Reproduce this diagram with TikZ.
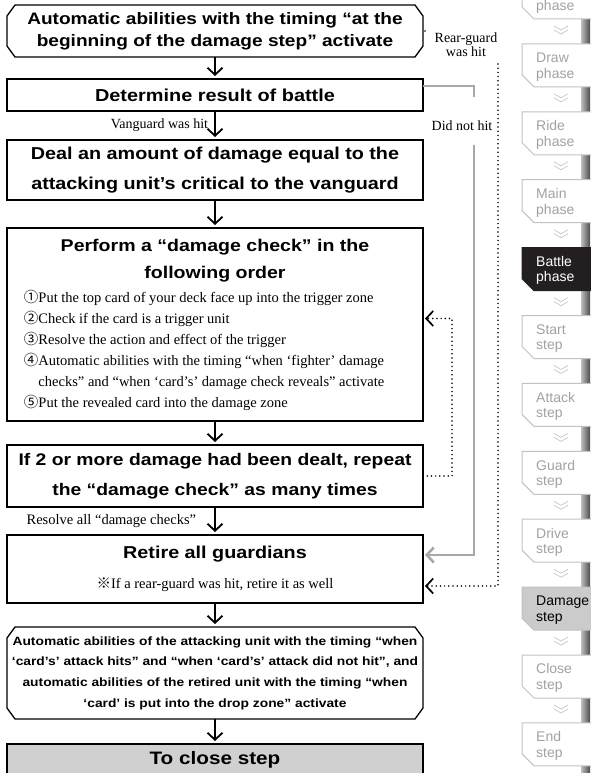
\documentclass[tikz,border=0pt]{standalone}
\usepackage{fontspec}
\setmainfont{Liberation Serif}
\setsansfont{Liberation Sans}
\newfontfamily\headfont[FakeStretch=1.15]{Liberation Sans}
\newfontfamily\markfont{Noto Sans CJK JP}
\usetikzlibrary{arrows.meta, positioning}
\definecolor{missgray}{HTML}{A8A8A8}
\definecolor{sidegray}{HTML}{A2A2A2}
\definecolor{sideline}{HTML}{C2C2C2}
\definecolor{nowgray}{HTML}{CBCBCB}
\definecolor{closegray}{HTML}{D0D0D0}
\definecolor{battleblack}{HTML}{231F20}

\newcommand\cutframe[1]{%
  \draw[line width=1.3pt] ([xshift=8pt]#1.north west) -- ([xshift=-8pt]#1.north east)
     -- ([yshift=-11pt]#1.north east) -- ([yshift=11pt]#1.south east)
     -- ([xshift=-8pt]#1.south east) -- ([xshift=8pt]#1.south west)
     -- ([yshift=11pt]#1.south west) -- ([yshift=-11pt]#1.north west) -- cycle;}

\begin{document}
\begin{tikzpicture}[x=1pt, y=-1pt,
          > = {Straight Barb[length=7pt,width=15pt]},
    box/.style = {draw, line width=1.3pt, minimum width=416pt, inner sep=0pt,
                  outer sep=0pt, align=center,
                  font=\headfont\bfseries\fontsize{17.2}{30}\selectfont},
   flow/.style = {->, line width=1.8pt, shorten >=3pt},
   miss/.style = {draw=missgray, line width=2.6pt},
    hit/.style = {line width=1.7pt, dash pattern=on 0pt off 4.2pt, line cap=round},
   note/.style = {font=\fontsize{14}{14}\selectfont, inner sep=1pt, align=center},
sideoff/.style = {fill=white, draw=sideline, text=sidegray},
 sideon/.style = {fill=battleblack, draw=battleblack, text=white},
sidenow/.style = {fill=nowgray, draw=sideline, text=black},
sidetxt/.style = {draw=none, fill=none, inner sep=0pt, align=left,
                  font=\sffamily\fontsize{14}{15.5}\selectfont},
   chev/.style = {draw=gray!45, line width=0.7pt}
                    ]
\useasboundingbox (0,0) rectangle (590,773);
% side bar
\shade[left color=gray!50, right color=black!70] (581,-30) rectangle (590,780);
\foreach \one/\two/\look [count=\i from 0] in {/phase/sideoff, Draw/phase/sideoff,
    Ride/phase/sideoff, Main/phase/sideoff, Battle/phase/sideon,
    Start/step/sideoff, Attack/step/sideoff, Guard/step/sideoff,
    Drive/step/sideoff, Damage/step/sidenow, Close/step/sideoff, End/step/sideoff}{
  \pgfmathsetmacro\ty{67.9*\i-24}
  \filldraw[\look, line width=1pt] (522,\ty) -- (596,\ty) -- (596,\ty+43)
     -- (534,\ty+43) -- (522,\ty+31) -- cycle;
  \node[\look, sidetxt, anchor=west] (side\i) at (536,\ty+23.5) {\strut\one\\\strut\two};
  \draw[chev] (554,\ty+50) -- (561,\ty+54) -- (568,\ty+50)
              (554,\ty+54) -- (561,\ty+58) -- (568,\ty+54);
}
% main flow
\node[box, draw=none, minimum height=52pt, font=\headfont\bfseries\fontsize{16.6}{22}\selectfont]
    (top1) at (215,31) {Automatic abilities with the timing “at the\\beginning of the damage step” activate};
\cutframe{top1}
\node[box, below=22pt of top1, minimum height=32pt, font=\headfont\bfseries\fontsize{17.3}{22}\selectfont]
    (result) {Determine result of battle};
\node[box, below=29pt of result, minimum height=60pt]
    (deal) {Deal an amount of damage equal to the\\attacking unit’s critical to the vanguard};
\node[box, below=28pt of deal, minimum height=193pt] (check) {\begin{minipage}{400pt}
  \centering\fontsize{17}{27}\selectfont Perform a “damage check” in the\\following order\par
  \vspace{3pt}
  \raggedright\leftskip=9pt\rmfamily\mdseries\fontsize{14.5}{21}\selectfont
  {\markfont ①}Put the top card of your deck face up into the trigger zone\\
  {\markfont ②}Check if the card is a trigger unit\\
  {\markfont ③}Resolve the action and effect of the trigger\\
  {\markfont ④}Automatic abilities with the timing “when ‘fighter’ damage\\
  \phantom{\markfont ④}checks” and “when ‘card’s’ damage check reveals” activate\\
  {\markfont ⑤}Put the revealed card into the damage zone
  \end{minipage}};
\node[box, below=24pt of check, minimum height=62pt, font=\headfont\bfseries\fontsize{16.8}{30}\selectfont]
    (repeat) {If 2 or more damage had been dealt, repeat\\the “damage check” as many times};
\node[box, below=28pt of repeat, minimum height=68pt]
    (retire) {Retire all guardians\\{\rmfamily\mdseries\fontsize{14.5}{14}\selectfont{\markfont ※}If a rear-guard was hit, retire it as well}};
\node[box, draw=none, below=24pt of retire, minimum height=92pt,
      font=\headfont\bfseries\fontsize{12}{20.7}\selectfont]
    (autoend) {Automatic abilities of the attacking unit with the timing “when\\
               ‘card’s’ attack hits” and “when ‘card’s’ attack did not hit”, and\\
               automatic abilities of the retired unit with the timing “when\\
               ‘card’ is put into the drop zone” activate};
\cutframe{autoend}
\node[box, below=25pt of autoend, minimum height=32pt, fill=closegray,
      font=\headfont\bfseries\fontsize{18}{30}\selectfont] (close) {To close step};
% links
\draw[flow] (top1.south) -- (result.north);
\draw[flow] (result.south) -- node[note, left=5pt] (vhit) {Vanguard was hit} (deal.north);
\draw[flow] (deal.south) -- (check.north);
\draw[flow] (check.south) -- (repeat.north);
\draw[flow] (repeat.south) -- node[note, left=17pt, font=\fontsize{14.5}{14}\selectfont] (allres) {Resolve all “damage checks”} (retire.north);
\draw[flow] (retire.south) -- (autoend.north);
\draw[flow] (autoend.south) -- (close.north);
% did not hit
\coordinate (misstop) at (474,97);
\coordinate (missbot) at (474,145);
\draw[miss] ([yshift=9pt]result.east) -| (misstop);
\node[note] (missnote) at (462,126) {Did not hit};
\draw[miss, ->, shorten >=2pt] (missbot) |- ([yshift=14pt]retire.east);
% rear-guard was hit
\fill ([xshift=2pt]top1.east) circle (0.9pt);
\node[note] (rgnote) at (466,45) {Rear-guard\\was hit};
\coordinate (rgtop) at (498,64);
\draw[hit, ->, shorten >=2pt] (rgtop) |- ([yshift=-17pt]retire.east);
% repeat the check
\draw[hit, ->, shorten >=2pt] (repeat.east) -- ++(29,0) |- ([yshift=6pt]check.east);
\end{tikzpicture}
\end{document}
